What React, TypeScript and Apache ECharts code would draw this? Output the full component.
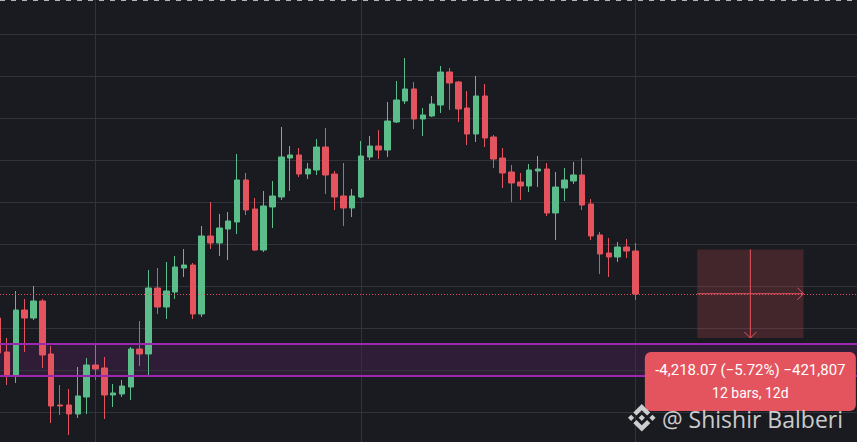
import React, { useEffect, useRef } from "react";
import * as echarts from "echarts";

// ---- Data (daily bars; index 0 .. 71, -1 is a partially visible bar) ----
const barIndex = [
  -1, 0, 1, 2, 3, 4, 5, 6, 7, 8, 9, 10, 11, 12, 13, 14, 15, 16, 17, 18, 19, 20,
  21, 22, 23, 24, 25, 26, 27, 28, 29, 30, 31, 32, 33, 34, 35, 36, 37, 38, 39, 40,
  41, 42, 43, 44, 45, 46, 47, 48, 49, 50, 51, 52, 53, 54, 55, 56, 57, 58, 59, 60,
  61, 62, 63, 64, 65, 66, 67, 68, 69, 70, 71,
];
const opens = [
  70476, 68857, 67762, 70857, 70476, 71286, 68762, 66333, 66333, 65905, 66714, 68238,
  68095, 66810, 66857, 67190, 69000, 68762, 71905, 71000, 71714, 72857, 73000, 70667,
  74381, 74048, 74714, 75048, 77048, 75667, 73714, 75762, 76238, 78095, 78238, 77333,
  77524, 78619, 77333, 76286, 75714, 76238, 78143, 78667, 78476, 79810, 80810, 81381,
  79952, 80095, 80619, 82190, 81714, 80476, 79238, 81048, 79095, 78095, 77429, 76952,
  76762, 77476, 77571, 75476, 76667, 77000, 77286, 75905, 74429, 73571, 73381, 73857,
  73667,
];
const closes = [
  68810, 67762, 70857, 70476, 71286, 68714, 66286, 66286, 65905, 66762, 68238, 68048,
  66810, 66905, 67238, 69000, 68762, 71905, 71000, 71762, 72905, 73000, 70667, 74381,
  74048, 74762, 75095, 77048, 75619, 73714, 75810, 76286, 78143, 78238, 77333, 77571,
  78619, 77286, 76238, 75714, 76286, 78190, 78667, 78476, 79857, 80857, 81381, 79952,
  80143, 80667, 82190, 81667, 80429, 79238, 81048, 79048, 78048, 77381, 76905, 76762,
  77524, 77571, 75476, 76714, 77048, 77286, 75857, 74381, 73524, 73381, 73857, 73667,
  71619,
];
const lows = [
  68571, 67286, 67381, 68857, 70381, 68095, 65476, 65857, 64905, 65714, 65905, 67524,
  65667, 66238, 66714, 66571, 68190, 67714, 70667, 70429, 71381, 72429, 70429, 70524,
  73762, 73429, 73238, 74476, 75381, 73667, 73619, 74762, 76095, 76524, 77190, 77095,
  77286, 76381, 75619, 74857, 75286, 76190, 78000, 78048, 78143, 79762, 80667, 79476,
  79143, 80048, 80238, 80381, 79810, 78714, 78857, 78619, 77619, 76667, 76000, 76095,
  76476, 76714, 75333, 74190, 76048, 76857, 75619, 74190, 72571, 72429, 73143, 73333,
  71333,
];
const highs = [
  70762, 69524, 71762, 71381, 72000, 71381, 69143, 67286, 67095, 68143, 68571, 69286,
  68619, 67333, 67524, 69095, 70333, 72762, 72857, 73143, 73429, 73762, 73095, 74857,
  76000, 75429, 75524, 78286, 77381, 76190, 76524, 77000, 79571, 78667, 78571, 77857,
  79000, 79524, 77476, 77857, 76619, 78905, 79143, 79429, 80762, 81762, 82857, 81714,
  80476, 81048, 82476, 82381, 81762, 81286, 82000, 81619, 79190, 78571, 77762, 77381,
  77810, 78190, 77857, 77429, 77619, 77905, 78095, 76143, 74571, 74286, 74095, 74238,
  74048,
];

// horizontal price grid levels and month boundaries (bar indices)
const priceGrid = [66000, 68000, 70000, 72000, 74000, 76000, 78000, 80000, 82000, 84000];
const monthStarts = [10, 40, 71];
// visible price window
const priceMin = 64571.43;
const priceMax = 85619.05;
// horizontal zone (purple rectangle)
const zoneTop = 69238;
const zoneBottom = 67714;
// measurement (date & price range)
const measureStartBar = 78;
const measureEndBar = 90;
const measureStartPrice = 73741.52;
const measureEndPrice = 69523.45;
const measureLine1 = "-4,218.07 (\u22125.72%) \u2212421,807";
const measureLine2 = "12 bars, 12d";
const watermark = "@ Shishir Balberi";

const BG = "#1a1b20";
const GRID = "#31333b";
const UP = "#5bbd8a";
const DOWN = "#e4545e";
const PURPLE = "#9c27b0";

const LOGO_D =
  "M16.624 13.9202l2.7175 2.7154-7.353 7.353-7.353-7.352 2.7175-2.7164 4.6355 4.6595 4.6356-4.6595zm4.6366-4.6366L24 12l-2.7154 2.7164L18.5682 12l2.6924-2.7164zm-9.272.001l2.7163 2.6914-2.7164 2.7174v-.001L9.2721 12l2.7164-2.7154zm-9.2722-.001L5.4088 12l-2.6914 2.6924L0 12l2.7164-2.7164zM11.9885.0115l7.353 7.329-2.7174 2.7154-4.6356-4.6356-4.6355 4.6595-2.7174-2.7154 7.353-7.353z";

let logoRegistered = false;

export default function App() {
  const ref = useRef<HTMLDivElement>(null);

  useEffect(() => {
    if (!logoRegistered) {
      echarts.graphic.registerShape("bnbLogo", echarts.graphic.extendPath(LOGO_D, {}));
      logoRegistered = true;
    }
    const chart = echarts.init(ref.current!, null, { renderer: "svg" });

    const candleData = barIndex.map((k, i) => [k, opens[i], closes[i], lows[i], highs[i]]);
    const lastClose = closes[closes.length - 1];

    const option: any = {
      animation: false,
      backgroundColor: BG,
      grid: { left: 0, right: 0, top: 0, bottom: 0, containLabel: false },
      xAxis: {
        type: "value",
        min: -0.79,
        max: 96.05,
        axisLine: { show: false },
        axisTick: { show: false },
        axisLabel: { show: false },
        splitLine: { show: false },
      },
      yAxis: {
        type: "value",
        min: priceMin,
        max: priceMax,
        axisLine: { show: false },
        axisTick: { show: false },
        axisLabel: { show: false },
        splitLine: { show: false },
      },
      series: [
        {
          type: "line",
          name: "grid",
          data: [],
          silent: true,
          z: 1,
          markLine: {
            silent: true,
            z: 1,
            symbol: ["none", "none"],
            label: { show: false },
            lineStyle: { color: GRID, width: 1, type: "solid" },
            data: [
              ...monthStarts.map((m) => ({ xAxis: m })),
              ...priceGrid.map((p) => ({ yAxis: p })),
            ],
          },
        },
        {
          type: "line",
          name: "zone",
          data: [],
          silent: true,
          z: 1,
          markArea: {
            silent: true,
            z: 1,
            itemStyle: { color: "rgba(156,39,176,0.17)" },
            data: [[{ x: 0, yAxis: zoneTop }, { x: 857, yAxis: zoneBottom }]],
          },
        },
        {
          type: "candlestick",
          name: "price",
          data: candleData,
          encode: { x: 0, y: [1, 2, 3, 4] },
          barWidth: 6,
          z: 3,
          itemStyle: {
            color: UP,
            color0: DOWN,
            borderColor: UP,
            borderColor0: DOWN,
            borderWidth: 1,
          },
          markLine: {
            silent: true,
            z: 6,
            symbol: ["none", "none"],
            label: { show: false },
            lineStyle: { color: DOWN, width: 1, type: [1, 2] },
            data: [{ yAxis: lastClose }],
          },
        },
        {
          type: "line",
          name: "zone-lines",
          data: [],
          silent: true,
          z: 4,
          markLine: {
            silent: true,
            z: 4,
            symbol: ["none", "none"],
            label: { show: false },
            lineStyle: { color: PURPLE, width: 2, type: "solid" },
            data: [{ yAxis: zoneTop }, { yAxis: zoneBottom }],
          },
        },
        {
          type: "custom",
          name: "measure",
          z: 10,
          silent: true,
          clip: false,
          data: [[measureStartBar, measureEndBar, measureStartPrice, measureEndPrice]],
          encode: { x: [0, 1], y: [2, 3] },
          renderItem: (params: any, api: any) => {
            const p1 = api.coord([api.value(0), api.value(2)]);
            const p2 = api.coord([api.value(1), api.value(3)]);
            const xm = api.coord([(api.value(0) + api.value(1)) / 2, api.value(2)])[0];
            const ym = (p1[1] + p2[1]) / 2;
            const stroke = { stroke: DOWN, lineWidth: 1, fill: "none" };
            const lw = 211;
            const lh = 59;
            const ly = p2[1] + 14;
            return {
              type: "group",
              children: [
                {
                  type: "rect",
                  shape: { x: p1[0], y: p1[1], width: p2[0] - p1[0], height: p2[1] - p1[1] },
                  style: { fill: "rgba(228,84,94,0.2)" },
                },
                {
                  type: "line",
                  shape: { x1: xm, y1: p1[1], x2: xm, y2: p2[1] },
                  style: stroke,
                },
                {
                  type: "polyline",
                  shape: { points: [[xm - 6, p2[1] - 6], [xm, p2[1]], [xm + 6, p2[1] - 6]] },
                  style: stroke,
                },
                {
                  type: "line",
                  shape: { x1: p1[0], y1: ym, x2: p2[0], y2: ym },
                  style: stroke,
                },
                {
                  type: "polyline",
                  shape: { points: [[p2[0] - 6, ym - 6], [p2[0], ym], [p2[0] - 6, ym + 6]] },
                  style: stroke,
                },
                {
                  type: "rect",
                  shape: { x: xm - lw / 2, y: ly, width: lw, height: lh, r: 6 },
                  style: { fill: DOWN },
                },
                {
                  type: "text",
                  x: xm,
                  y: ly + 18,
                  style: {
                    text: measureLine1,
                    fill: "#ffffff",
                    fontSize: 15,
                    lineHeight: 15,
                    fontFamily: "Roboto",
                    align: "center",
                    verticalAlign: "middle",
                  },
                },
                {
                  type: "text",
                  x: xm,
                  y: ly + 41,
                  style: {
                    text: measureLine2,
                    fill: "#ffffff",
                    fontSize: 14,
                    lineHeight: 14,
                    fontFamily: "Roboto",
                    align: "center",
                    verticalAlign: "middle",
                  },
                },
              ],
            };
          },
        },
      ],
      graphic: [
        {
          type: "line",
          silent: true,
          z: 20,
          shape: { x1: 0, y1: 0.5, x2: 857, y2: 0.5 },
          style: { stroke: "#b2b5be", lineWidth: 1.2, lineDash: [5, 6] },
        },
        {
          type: "bnbLogo",
          silent: true,
          z: 30,
          x: 628,
          y: 404,
          scaleX: 1.15,
          scaleY: 1.15,
          style: { fill: "rgba(236,236,236,0.85)" },
        },
        {
          type: "text",
          silent: true,
          z: 30,
          x: 662,
          y: 419,
          style: {
            text: watermark,
            fill: "rgba(236,236,236,0.85)",
            fontSize: 23,
            lineHeight: 20,
            fontFamily: "Open Sans",
            align: "left",
            verticalAlign: "middle",
          },
        },
      ],
    };

    chart.setOption(option);
    return () => chart.dispose();
  }, []);

  return (
    <div
      ref={ref}
      style={{ position: "fixed", left: 0, top: 0, width: 857, height: 442, background: BG }}
    />
  );
}
